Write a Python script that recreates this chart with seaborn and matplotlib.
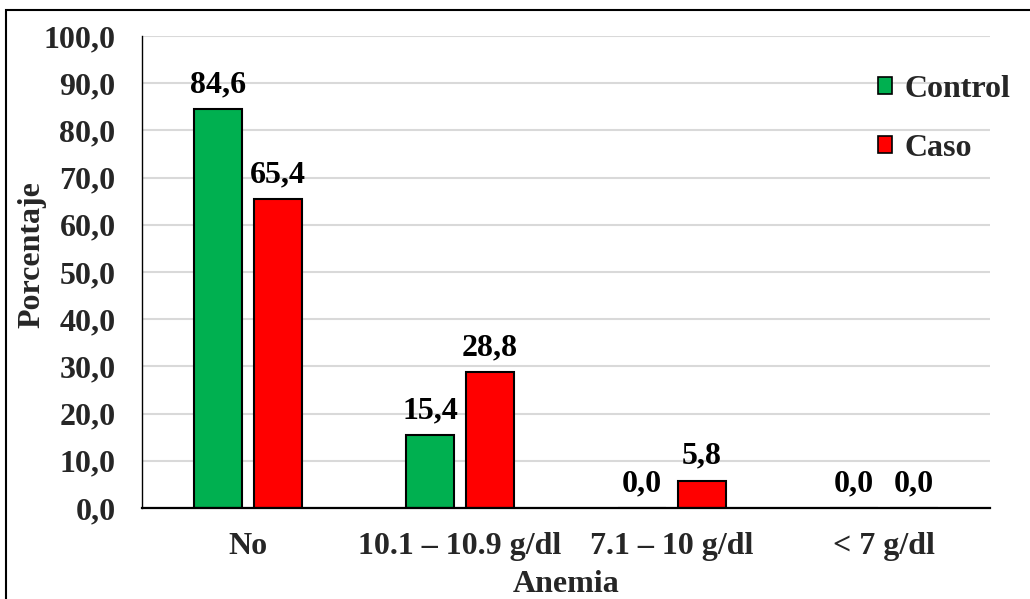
import matplotlib
matplotlib.use("Agg")
import matplotlib.pyplot as plt
from matplotlib.patches import Rectangle
import seaborn as sns
import pandas as pd

# Data
categories = ["No", "10.1 – 10.9 g/dl", "7.1 – 10 g/dl", "< 7 g/dl"]
control = [84.6, 15.4, 0.0, 0.0]
caso = [65.4, 28.8, 5.8, 0.0]
groups = ["Control", "Caso"]
yticks = [0, 10, 20, 30, 40, 50, 60, 70, 80, 90, 100]

df = pd.DataFrame({
    "Anemia": categories * 2,
    "Porcentaje": control + caso,
    "Grupo": [groups[0]] * len(categories) + [groups[1]] * len(categories),
})

sns.set_theme(style="white")
plt.rcParams["font.family"] = ["Liberation Serif", "DejaVu Serif"]
plt.rcParams["font.weight"] = "bold"

FS = 23
fig = plt.figure(figsize=(10.30, 5.99), dpi=100)
ax = fig.add_axes([142 / 1030, 1 - 508 / 599, 848 / 1030, 472 / 599])

sns.barplot(
    data=df, x="Anemia", y="Porcentaje", hue="Grupo", order=categories,
    hue_order=groups, palette={"Control": "#00B050", "Caso": "#FF0000"},
    saturation=1, edgecolor="black", linewidth=1.5, width=0.566, gap=0.2,
    ax=ax, legend=False, errorbar=None, zorder=3,
)

# Value labels with decimal comma
for container, vals in zip(ax.containers, [control, caso]):
    ax.bar_label(container, labels=[f"{v:.1f}".replace(".", ",") for v in vals],
                 padding=7, fontsize=FS, fontweight="bold", color="black")

ax.set_ylim(0, 100)
ax.set_yticks(yticks)
ax.set_yticklabels([f"{v:.1f}".replace(".", ",") for v in yticks],
                   fontsize=FS, fontweight="bold")
ax.set_xticks(range(len(categories)))
ax.set_xticklabels(categories, fontsize=FS, fontweight="bold")
ax.tick_params(axis="y", length=0, pad=19)
ax.tick_params(axis="x", length=0, pad=17)
ax.set_xlim(-0.5, len(categories) - 0.5)

ax.yaxis.grid(True, color="#D9D9D9", linewidth=1.5, zorder=0)
ax.set_axisbelow(True)
for side in ["top", "right"]:
    ax.spines[side].set_visible(False)
ax.spines["left"].set_color("black")
ax.spines["left"].set_linewidth(1.0)
ax.spines["bottom"].set_color("black")
ax.spines["bottom"].set_linewidth(1.6)
ax.spines["bottom"].set_zorder(4)

ax.set_xlabel("Anemia", fontsize=FS, fontweight="bold")
ax.set_ylabel("Porcentaje", fontsize=FS, fontweight="bold")
ax.xaxis.set_label_coords(0.5, -0.132)
ax.yaxis.set_label_coords(-0.113, 0.536)

# Legend with square markers
handles = [Rectangle((0, 0), 1, 1, facecolor=c, edgecolor="black", linewidth=1.2)
           for c in ["#00B050", "#FF0000"]]
leg = ax.legend(handles, groups, loc="upper left", bbox_to_anchor=(0.853, 0.945),
                frameon=False, fontsize=FS, handlelength=0.42, handleheight=0.42,
                handletextpad=0.4, labelspacing=0.95, borderaxespad=0)
for t in leg.get_texts():
    t.set_fontweight("bold")

# Outer frame of the chart area
fig.patches.append(Rectangle((6 / 1030, -0.1), 1.5, 1 - 10 / 599 + 0.1,
                             transform=fig.transFigure, fill=False,
                             edgecolor="black", linewidth=1.5, zorder=10))

fig.savefig("out.png", dpi=100, facecolor="white")
